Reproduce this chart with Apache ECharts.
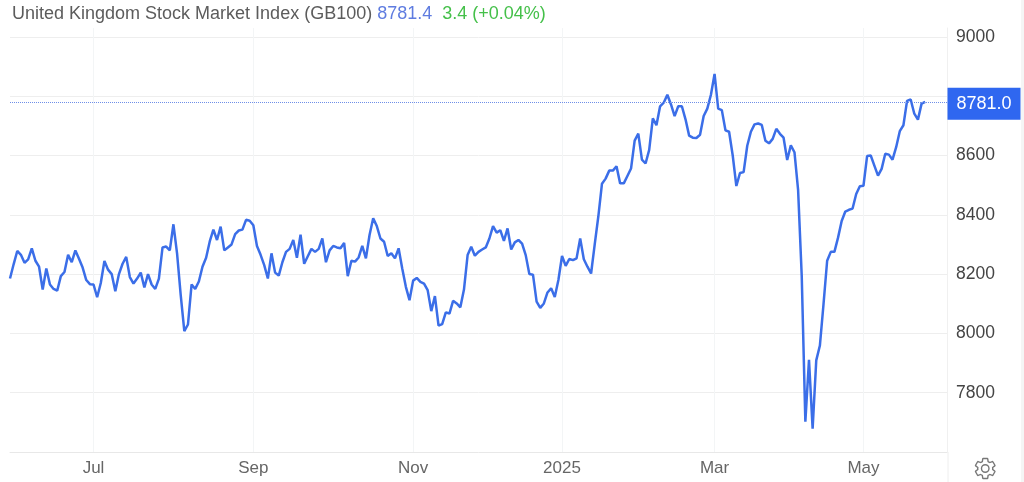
<!DOCTYPE html>
<html>
<head>
<meta charset="utf-8">
<style>html,body{margin:0;padding:0;background:#fff}#chart{width:1024px;height:482px}</style>
<script src="https://cdn.jsdelivr.net/npm/echarts@6/dist/echarts.min.js"></script>
</head>
<body>
<div id="chart"></div>
<script>
var startDate = '2024-05-29';
var endDate = '2025-06-05';
var holidays = ['2024-08-26', '2024-12-25', '2024-12-26', '2025-01-01', '2025-04-18', '2025-04-21', '2025-05-05', '2025-05-26'];
var tickDates = ['2024-07-01', '2024-09-02', '2024-11-01', '2025-01-02', '2025-03-03', '2025-05-01'];
var tickLabels = ['Jul', 'Sep', 'Nov', '2025', 'Mar', 'May'];
var lastPrice = 8781;
var lastLabel = '8781.0';

var closes = [
    8185, 8233, 8278, 8265, 8238, 8250, 8287, 8245, 8225, 8148,
    8219, 8165, 8150, 8144, 8193, 8207, 8265, 8240, 8280, 8252,
    8222, 8180, 8166, 8165, 8122, 8170, 8244, 8215, 8200, 8142,
    8200, 8235, 8258, 8190, 8168, 8185, 8205, 8155, 8200, 8165,
    8150, 8185, 8290, 8293, 8280, 8368, 8270, 8130, 8008, 8030,
    8165, 8150, 8175, 8225, 8255, 8310, 8350, 8315, 8360, 8280,
    8290, 8300, 8335, 8347, 8350, 8383, 8380, 8365, 8295, 8265,
    8230, 8185, 8270, 8205, 8195, 8240, 8275, 8285, 8315, 8255,
    8333, 8235, 8260, 8285, 8275, 8285, 8320, 8240, 8280, 8295,
    8290, 8287, 8305, 8193, 8245, 8242, 8256, 8295, 8253, 8332,
    8388, 8362, 8320, 8309, 8261, 8270, 8253, 8287, 8219, 8157,
    8112, 8178, 8187, 8174, 8168, 8146, 8075, 8126, 8026, 8031,
    8071, 8067, 8110, 8101, 8088, 8148, 8264, 8292, 8262, 8275,
    8283, 8290, 8320, 8362, 8340, 8348, 8312, 8354, 8283, 8307,
    8315, 8303, 8264, 8200, 8198, 8107, 8086, 8101, 8138, 8152,
    8123, 8180, 8261, 8228, 8251, 8247, 8253, 8320, 8250, 8225,
    8202, 8300, 8395, 8505, 8522, 8549, 8549, 8564, 8506, 8506,
    8531, 8556, 8650, 8674, 8586, 8573, 8619, 8725, 8702, 8766,
    8778, 8805, 8772, 8733, 8766, 8766, 8722, 8667, 8660, 8659,
    8670, 8733, 8758, 8805, 8875, 8758, 8753, 8685, 8680, 8600,
    8497, 8541, 8544, 8633, 8680, 8705, 8708, 8703, 8650, 8641,
    8656, 8690, 8673, 8660, 8585, 8634, 8611, 8484, 8194, 7702,
    7911, 7679, 7909, 7959, 8099, 8245, 8275, 8275, 8323, 8379,
    8411, 8417, 8421, 8470, 8496, 8498, 8598, 8600, 8566, 8532,
    8555, 8606, 8603, 8586, 8628, 8682, 8702, 8784, 8789, 8741,
    8721, 8775, 8781
];

// trading days, weekends and UK bank holidays left out
var categories = [];
var day = new Date(startDate + 'T00:00:00Z');
var last = new Date(endDate + 'T00:00:00Z');
while (day <= last) {
    var iso = day.toISOString().slice(0, 10);
    if (day.getUTCDay() !== 0 && day.getUTCDay() !== 6 && holidays.indexOf(iso) < 0) {
        categories.push(iso);
    }
    day.setUTCDate(day.getUTCDate() + 1);
}

function isMonthTick(index, value) {
    return tickDates.indexOf(value) >= 0;
}

var gearPath = 'path://M19.14 12.94c.04-.3.06-.61.06-.94 0-.32-.02-.64-.07-.94l2.03-1.58c.18-.14.23-.41.12-.61l-1.92-3.32c-.12-.22-.37-.29-.59-.22l-2.39.96c-.5-.38-1.03-.7-1.62-.94l-.36-2.54c-.04-.24-.24-.41-.48-.41h-3.84c-.24 0-.43.17-.47.41l-.36 2.54c-.59.24-1.13.57-1.62.94l-2.39-.96c-.22-.08-.47 0-.59.22L2.74 8.87c-.12.21-.08.47.12.61l2.03 1.58c-.05.3-.09.63-.09.94s.02.64.07.94l-2.03 1.58c-.18.14-.23.41-.12.61l1.92 3.32c.12.22.37.29.59.22l2.39-.96c.5.38 1.03.7 1.62.94l.36 2.54c.05.24.24.41.48.41h3.84c.24 0 .44-.17.47-.41l.36-2.54c.59-.24 1.13-.56 1.62-.94l2.39.96c.22.08.47 0 .59-.22l1.92-3.32c.12-.22.07-.47-.12-.61l-2.01-1.58zM12 15.6c-1.98 0-3.6-1.62-3.6-3.6s1.62-3.6 3.6-3.6 3.6 1.62 3.6 3.6-1.62 3.6-3.6 3.6z';

var myChart = echarts.init(document.getElementById('chart'));

myChart.setOption({
    animation: false,
    textStyle: { fontFamily: '"Liberation Sans", Arial, sans-serif' },
    title: {
        left: 7,
        top: 0,
        text: '{name|United Kingdom Stock Market Index (GB100)} {price|8781.4}  {change|3.4 (+0.04%)}',
        textStyle: {
            rich: {
                name: { fontSize: 18, fontWeight: 'normal', color: '#5c5c5c', fontFamily: '"Liberation Sans", Arial, sans-serif' },
                price: { fontSize: 18, fontWeight: 'normal', color: '#5f7ce0', fontFamily: '"Liberation Sans", Arial, sans-serif' },
                change: { fontSize: 18, fontWeight: 'normal', color: '#45c04a', fontFamily: '"Liberation Sans", Arial, sans-serif' }
            }
        }
    },
    toolbox: {
        left: 958,
        top: 441,
        itemSize: 20,
        feature: {
            mySettings: {
                show: true,
                title: 'Settings',
                icon: gearPath,
                onclick: function() {}
            }
        },
        iconStyle: { color: 'none', borderColor: '#777', borderWidth: 1.4 }
    },
    grid: { left: 10, right: 77, top: 28, bottom: 30 },
    xAxis: {
        type: 'category',
        data: categories,
        boundaryGap: false,
        axisLine: { lineStyle: { color: '#e8e8e8' } },
        axisTick: { show: false },
        axisLabel: {
            interval: isMonthTick,
            color: '#666',
            fontSize: 17,
            margin: 8,
            formatter: function(value) {
                return tickLabels[tickDates.indexOf(value)];
            }
        },
        splitLine: {
            show: true,
            interval: isMonthTick,
            lineStyle: { color: '#f3f5f6' }
        }
    },
    yAxis: {
        type: 'value',
        position: 'right',
        min: 7600,
        max: 9030,
        interval: 200,
        axisLine: { show: true, lineStyle: { color: '#f0f0f0' } },
        axisTick: { show: false },
        axisLabel: {
            color: '#444',
            fontSize: 17.5,
            margin: 9,
            showMinLabel: false,
            showMaxLabel: false,
            formatter: function(value) {
                return String(value);
            }
        },
        splitLine: {
            showMaxLine: false,
            showMinLine: false,
            lineStyle: { color: '#eeeeee' }
        }
    },
    series: [{
        name: 'GB100',
        type: 'line',
        data: closes,
        symbol: 'none',
        smooth: false,
        lineStyle: { color: '#3b6ee8', width: 2.5 },
        markLine: {
            silent: true,
            symbol: 'none',
            lineStyle: { color: '#6f8fe8', type: 'dotted', width: 1 },
            label: {
                position: 'end',
                distance: 1,
                formatter: lastLabel,
                color: '#fff',
                fontSize: 18,
                backgroundColor: '#2f67f0',
                width: 73,
                height: 32,
                lineHeight: 32,
                align: 'center',
                offset: [36, 2]
            },
            data: [{ yAxis: lastPrice }]
        }
    }],
    graphic: [
        { type: 'rect', shape: { x: 1021, y: 0, width: 3, height: 482 }, style: { fill: '#f5f5f5' } },
        { type: 'line', shape: { x1: 948, y1: 452, x2: 948, y2: 482 }, style: { stroke: '#eeeeee' } }
    ]
});
</script>
</body>
</html>
